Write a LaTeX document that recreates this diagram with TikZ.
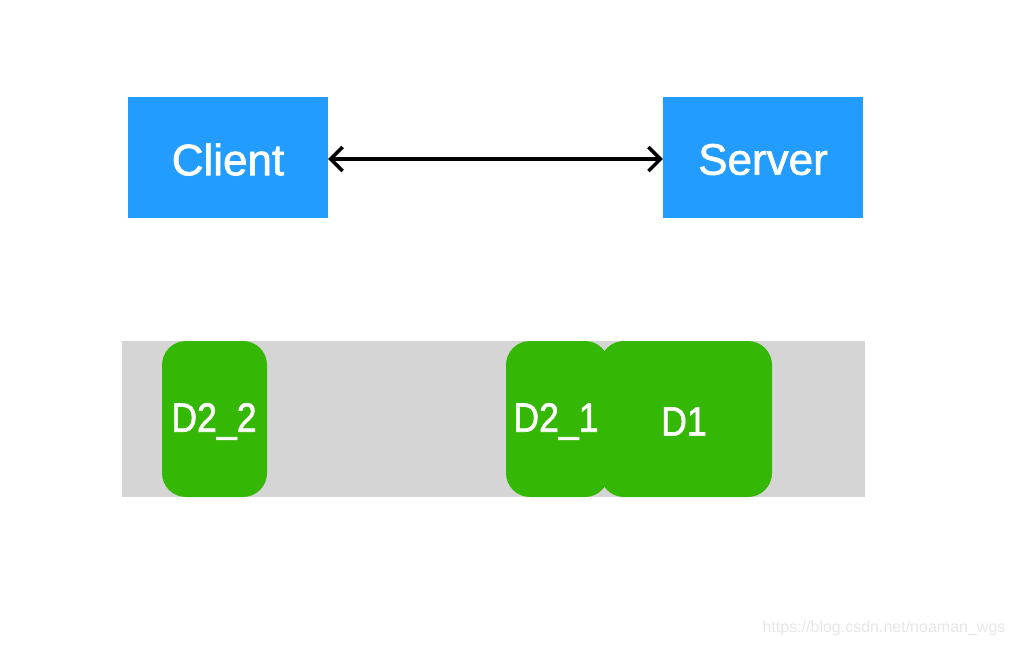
\documentclass[tikz,border=0pt]{standalone}
\usepackage{fontspec}
\setmainfont{Liberation Sans}
\newfontfamily\labfont[FakeBold=1.5]{Liberation Sans}
\usetikzlibrary{arrows.meta}
\definecolor{boxblue}{HTML}{229DFF}
\definecolor{dgreen}{HTML}{34B805}
\definecolor{band}{HTML}{D5D5D5}
\definecolor{wm}{HTML}{E6E6E6}
\tikzset{
  hostbox/.style={fill=boxblue, draw=none, text=white, minimum width=200pt, minimum height=121pt, inner sep=0pt},
  hostlabel/.style={text=white, inner sep=0pt, font=\labfont\fontsize{44}{44}\selectfont},
  dbox/.style={fill=dgreen, draw=none, rounded corners=24pt, inner sep=0pt, minimum height=156pt},
  dlabel/.style={text=white, inner sep=0pt, font=\labfont\fontsize{41}{41}\selectfont},
  link/.style={line width=3.4pt, {Straight Barb[length=12pt,width=24pt,line width=3.4pt]}-{Straight Barb[length=12pt,width=24pt,line width=3.4pt]}}
}
\begin{document}
\begin{tikzpicture}[x=1pt,y=-1pt]
\useasboundingbox (0,0) rectangle (1014,646);
\node[hostbox] (client) at (228,157.5) {};
\node[hostbox] (server) at (763,157.5) {};
\node[hostlabel] (clientt) at (228,159.5) {Client};
\node[hostlabel] (servert) at (763,159.5) {Server};
\draw[link] ([yshift=-1.5pt]client.east) -- ([yshift=-1.5pt]server.west);
\node[fill=band, draw=none, minimum width=743pt, minimum height=156pt, inner sep=0pt] (bandnode) at (493.5,419) {};
\node[dbox, minimum width=105pt] (d22) at (214.5,419) {};
\node[dbox, minimum width=103pt] (d21) at (557.5,419) {};
\node[dbox, minimum width=172pt] (d1) at (686,419) {};
\node[dlabel] (d22t) at (214,421.5) {\scalebox{0.87}[1]{D2\_2}};
\node[dlabel] (d21t) at (556,421.5) {\scalebox{0.87}[1]{D2\_1}};
\node[dlabel] (d1t) at (684,421.5) {\scalebox{0.87}[1]{D1}};
\node[text=wm, inner sep=0pt, font=\fontsize{16}{16}\selectfont] (wmark) at (884,628) {https://blog.csdn.net/noaman\_wgs};
\end{tikzpicture}
\end{document}
